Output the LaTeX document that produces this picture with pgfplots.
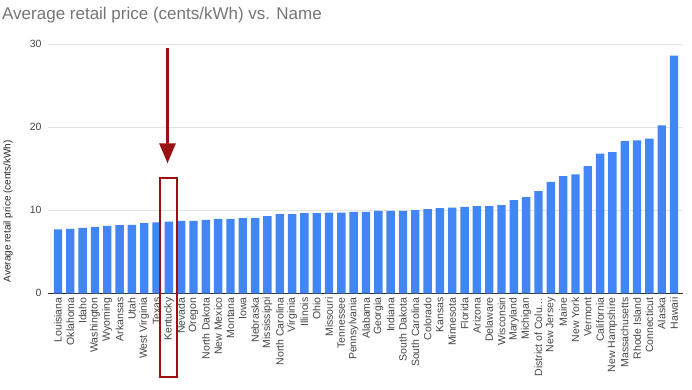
\documentclass[border=0pt]{standalone}
\usepackage{pgfplots}
\pgfplotsset{compat=1.18}
\usepackage{pgfplotstable}
\usepackage{fontspec}
\setmainfont{Liberation Sans}
\usetikzlibrary{arrows.meta}
\definecolor{barblue}{HTML}{4285F4}
\definecolor{gridgray}{HTML}{E3E3E3}
\definecolor{ticktext}{HTML}{444444}
\definecolor{titlegray}{HTML}{757575}
\definecolor{annred}{RGB}{155,16,16}
\pgfplotstableread{
idx value
0 7.68
1 7.76
2 7.88
3 8.00
4 8.12
5 8.20
6 8.24
7 8.44
8 8.52
9 8.64
10 8.72
11 8.72
12 8.84
13 8.96
14 8.96
15 9.04
16 9.04
17 9.28
18 9.52
19 9.52
20 9.64
21 9.64
22 9.72
23 9.72
24 9.80
25 9.80
26 9.92
27 9.92
28 9.92
29 10.00
30 10.12
31 10.24
32 10.32
33 10.40
34 10.50
35 10.50
36 10.60
37 11.20
38 11.56
39 12.30
40 13.40
41 14.10
42 14.30
43 15.30
44 16.80
45 17.00
46 18.30
47 18.40
48 18.60
49 20.20
50 28.60
}\pricedata
\begin{document}
\begin{tikzpicture}
\useasboundingbox (-48pt,-96.7pt) rectangle (644pt,293.3pt);
\begin{axis}[
  at={(0,0)}, anchor=south west,
  scale only axis,
  width=635pt, height=249.3pt,
  xmin=-0.81, xmax=50.73,
  ymin=0, ymax=30,
  clip=false,
  axis line style={draw=none},
  major tick length=0pt,
  ytick={10,20,30},
  extra y ticks={0},
  extra y tick style={grid style={draw=black!80, line width=0.8pt}},
  ymajorgrids,
  grid style={draw=gridgray, line width=0.8pt},
  xtick={0,...,50},
  xticklabels={Louisiana,Oklahoma,Idaho,Washington,Wyoming,Arkansas,Utah,West Virginia,Texas,Kentucky,Nevada,Oregon,North Dakota,New Mexico,Montana,Iowa,Nebraska,Mississippi,North Carolina,Virginia,Illinois,Ohio,Missouri,Tennessee,Pennsylvania,Alabama,Georgia,Indiana,South Dakota,South Carolina,Colorado,Kansas,Minnesota,Florida,Arizona,Delaware,Wisconsin,Maryland,Michigan,District of Colu…,New Jersey,Maine,New York,Vermont,California,New Hampshire,Massachusetts,Rhode Island,Connecticut,Alaska,Hawaii},
  xticklabel style={rotate=90, anchor=east, font=\fontsize{10.5}{12}\selectfont, text=ticktext, xshift=-3pt, inner sep=1pt},
  yticklabel style={font=\fontsize{10.5}{12}\selectfont, text=ticktext, xshift=-3pt},
  /pgf/number format/assume math mode=true,
]
\addplot[ybar, bar width=0.68, fill=barblue, draw=none] table[x=idx, y=value] {\pricedata};
\draw[annred, line width=3pt, -{Triangle[width=16pt,length=20pt]}] (axis cs:8.89,29.56) -- (axis cs:8.89,15.64);
\draw[annred, line width=2pt] (axis cs:8.28,13.84) rectangle (axis cs:9.66,-10.04);
\end{axis}
\node[anchor=base west, text=titlegray, font=\fontsize{17}{20}\selectfont, inner sep=0pt] at (-46pt,274pt) {Average retail price (cents/kWh) vs. Name};
\node[rotate=90, text=black!85, font=\fontsize{10}{12}\selectfont, inner sep=0pt] at (-40pt,82pt) {Average retail price (cents/kWh)};
\end{tikzpicture}
\end{document}
